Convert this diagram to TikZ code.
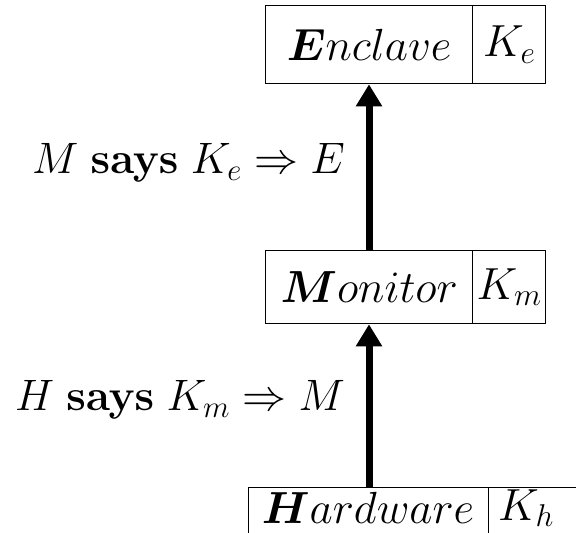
\RequirePackage{fix-cm}
\documentclass[tikz,border=0pt]{standalone}
\usepackage{amsmath}
\usepackage{bm}
\usetikzlibrary{arrows.meta}
\begin{document}
\begin{tikzpicture}[x=1pt,y=-1pt,
  cell/.style={draw,line width=1.3pt,inner sep=0pt,anchor=north west,font=\fontsize{45}{48}\selectfont},
  txt/.style={inner sep=0pt,font=\fontsize{45}{48}\selectfont},
  lab/.style={inner sep=0pt,anchor=east,font=\fontsize{44}{48}\selectfont},
  arr/.style={line width=7pt,-{Triangle[width=25pt,length=22pt]}}]
\path[use as bounding box,clip] (0,0) rectangle (576,533);
% Enclave
\node[cell,minimum width=207pt,minimum height=78pt] (enc) at (265,5) {$\bm{E}nclave$};
\node[cell,minimum width=73pt,minimum height=78pt] (ke) at (472,5) {$K_e$};
% Monitor
\node[cell,minimum width=207pt,minimum height=73pt] (mon) at (265,250) {$\bm{M}onitor$};
\node[cell,minimum width=73pt,minimum height=73pt] (km) at (472,250) {$K_m$};
% Hardware (box runs past the lower and right edges)
\node[cell,minimum width=240pt,minimum height=70pt] (hw) at (248,487) {};
\node[cell,minimum width=110pt,minimum height=70pt] (kh) at (488,487) {};
\node[txt] (hwt) at (368,508) {$\bm{H}ardware$};
\node[txt,anchor=west] (kht) at (498,508) {$K_h$};
% arrows
\coordinate (ax) at (369,0);
\draw[arr] (ax |- mon.north) -- (ax |- enc.south);
\draw[arr] (ax |- hw.north) -- (ax |- mon.south);
% labels
\node[lab] (l1) at (345,163) {$M\;\mathbf{says}\;K_e \Rightarrow E$};
\node[lab] (l2) at (345,400) {$H\;\mathbf{says}\;K_m \Rightarrow M$};
% clipped fragment at the left edge
\node[lab,anchor=east] (frag) at (2,242) {$e$};
\end{tikzpicture}
\end{document}
